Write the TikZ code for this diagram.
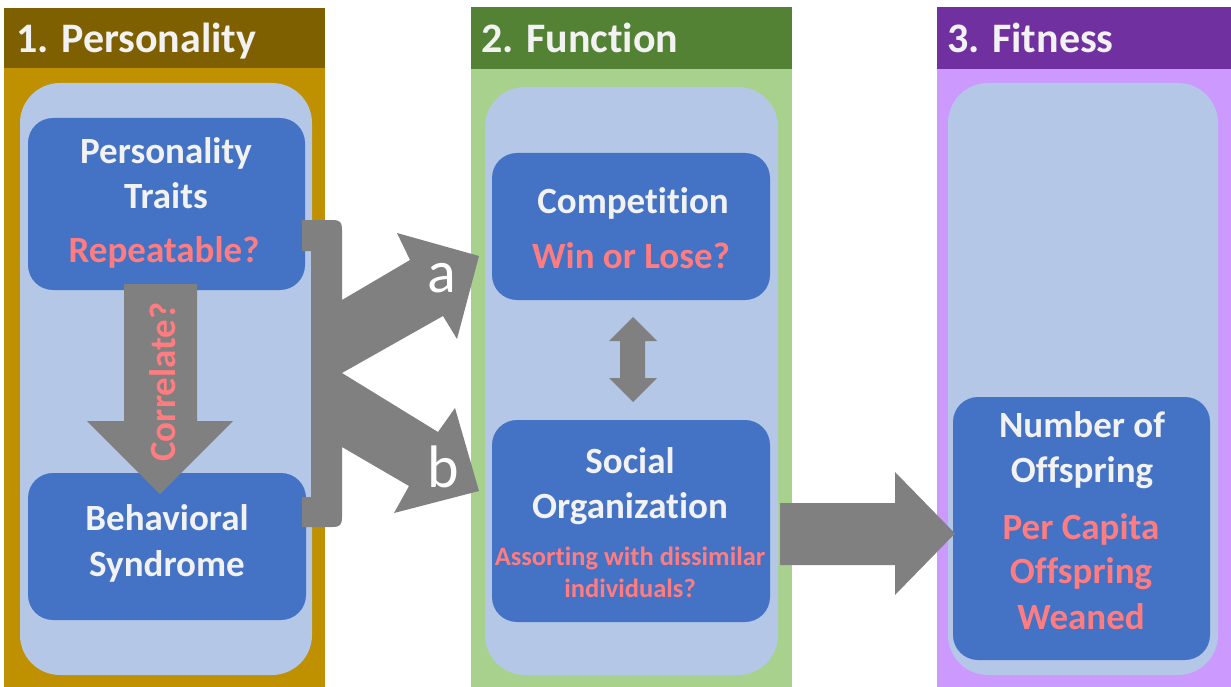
\documentclass[tikz,border=0pt]{standalone}
\usepackage{fontspec}
\setmainfont{Carlito}[RawFeature={-liga}]
\definecolor{ponehead}{HTML}{7F6000}
\definecolor{ponebody}{HTML}{BF9000}
\definecolor{ptwohead}{HTML}{548235}
\definecolor{ptwobody}{HTML}{A9D18E}
\definecolor{pthreehead}{HTML}{7030A0}
\definecolor{pthreebody}{HTML}{CC99FF}
\definecolor{lightbg}{HTML}{B4C7E7}
\definecolor{boxblue}{HTML}{4472C4}
\definecolor{arrgrey}{HTML}{808080}
\definecolor{redtxt}{HTML}{FF7C80}
\definecolor{whitetxt}{HTML}{F2F2F2}
\tikzset{
  panelbg/.style={rounded corners=40pt, fill=lightbg},
  bluebox/.style={rounded corners=25pt, fill=boxblue, inner sep=0pt, draw=none},
  hdr/.style={anchor=base west, inner sep=0pt, text=whitetxt, font=\fontsize{42}{50}\selectfont\bfseries},
  ttl/.style={anchor=base, inner sep=0pt, text=whitetxt, font=\fontsize{37}{44}\selectfont\bfseries},
  qst/.style={anchor=base, inner sep=0pt, text=redtxt, font=\fontsize{37}{44}\selectfont\bfseries},
  smallq/.style={anchor=base, inner sep=0pt, text=redtxt, font=\fontsize{26.5}{32}\selectfont\bfseries},
  lbl/.style={anchor=base, inner sep=0pt, text=white, font=\fontsize{60}{68}\selectfont},
  blockarrow/.style={fill=arrgrey}
}
\begin{document}
\begin{tikzpicture}[x=1pt,y=-1pt]
\useasboundingbox (0,0) rectangle (1231,687);
% panel 1
\fill[ponebody] (4,8) rectangle (325,687);
\fill[ponehead] (4,8) rectangle (325,68);
\fill[panelbg] (20,83) rectangle (312,675);
\node[hdr] (h1) at (16,53) {1. Personality};
% panel 2
\fill[ptwobody] (471,7) rectangle (792,687);
\fill[ptwohead] (471,7) rectangle (792,69);
\fill[panelbg] (485,87) rectangle (778,675);
\node[hdr] (h2) at (481,53) {2. Function};
% panel 3
\fill[pthreebody] (937,7) rectangle (1231,687);
\fill[pthreehead] (937,7) rectangle (1231,69);
\fill[panelbg] (948,83) rectangle (1218,675);
\node[hdr] (h3) at (947,53) {3. Fitness};
% boxes
\node[bluebox, minimum width=277pt, minimum height=172pt] (pt) at (166.5,204) {};
\node[bluebox, minimum width=278pt, minimum height=147pt] (bs) at (167,546.5) {};
\node[bluebox, minimum width=278pt, minimum height=147pt] (cp) at (631,226.5) {};
\node[bluebox, minimum width=278pt, minimum height=202pt] (so) at (631,521) {};
\node[bluebox, minimum width=257pt, minimum height=263pt] (nf) at (1081.5,528.5) {};
% arrows
\fill[blockarrow] (124,284) -- (197,284) -- (197,421) -- (233,421) -- (160,494) -- (87,421) -- (124,421) -- cycle;
\fill[blockarrow] (633,317) -- (657,341) -- (645,341) -- (645,378) -- (657,378) -- (633,402) -- (609,378) -- (620,378) -- (620,341) -- (609,341) -- cycle;
\fill[blockarrow] (780,503) -- (895,503) -- (895,472) -- (955,533.5) -- (895,595) -- (895,565) -- (780,565) -- cycle;
\fill[blockarrow] (302,220) -- (332,220) .. controls (340,220) and (342,222) .. (342,230)
  -- (342,300) -- (410,260) -- (397,233) -- (479,256) -- (457,339) -- (443,316) -- (342,373)
  -- (438,432) -- (455,408) -- (479,491) -- (394,513) -- (409,486) -- (342,447)
  -- (342,517) .. controls (342,525) and (340,527) .. (332,527) -- (302,527) -- (302,497)
  -- (311,497) -- (311,251) -- (302,251) -- cycle;
% texts
\node[ttl] (t1) at (166,164) {Personality};
\node[ttl] (t2) at (166,208) {Traits};
\node[qst] (t3) at (164,262) {Repeatable?};
\node[ttl] (t4) at (167,530) {Behavioral};
\node[ttl] (t5) at (167,576) {Syndrome};
\node[ttl] (t6) at (633,214) {Competition};
\node[qst] (t7) at (631,268) {Win or Lose?};
\node[ttl] (t8) at (630,473) {Social};
\node[ttl] (t9) at (630,518) {Organization};
\node[smallq] (t10) at (630,565) {Assorting with dissimilar};
\node[smallq] (t11) at (630,597) {individuals?};
\node[ttl] (t12) at (1082,437) {Number of};
\node[ttl] (t13) at (1082,482) {Offspring};
\node[qst] (t14) at (1081,539) {Per Capita};
\node[qst] (t15) at (1081,583) {Offspring};
\node[qst] (t16) at (1081,629) {Weaned};
\node[qst, rotate=90] (t17) at (175,382) {Correlate?};
\node[lbl] (la) at (442,292) {a};
\node[lbl] (lb) at (443,487) {b};
\end{tikzpicture}
\end{document}
